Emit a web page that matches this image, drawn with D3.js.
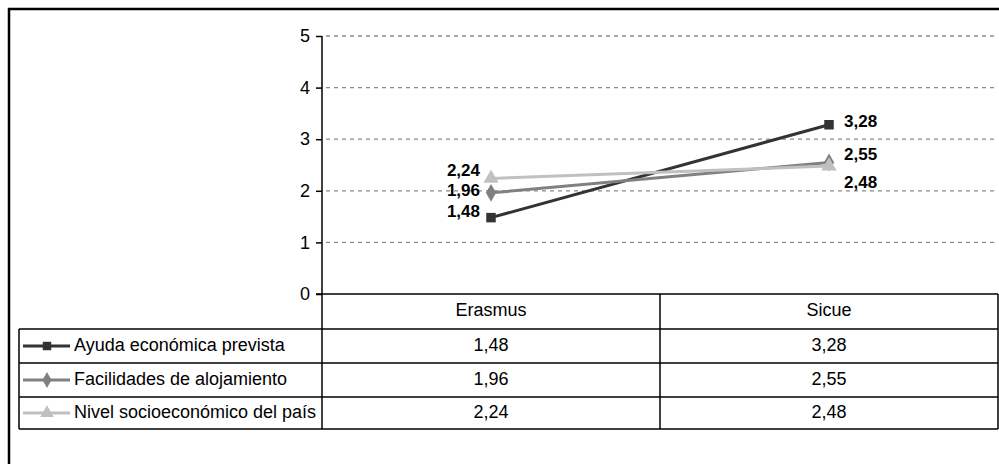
<!DOCTYPE html>
<html><head><meta charset="utf-8">
<script src="https://cdn.jsdelivr.net/npm/d3@7"></script>
<style>body{margin:0;background:#fff}svg{display:block}text{font-family:"Liberation Sans",Arial,sans-serif}</style>
</head><body>
<svg id="c" width="999" height="464"></svg>
<script>
const categories = ["Erasmus", "Sicue"];
const seriesNames = ["Ayuda económica prevista", "Facilidades de alojamiento", "Nivel socioeconómico del país"];
const ayuda = [1.48, 3.28];
const facilidades = [1.96, 2.55];
const nivel = [2.24, 2.48];
const yTicks = [0, 1, 2, 3, 4, 5];

const seriesValues = [ayuda, facilidades, nivel];
const colors = ["#333333", "#808080", "#c0c0c0"];
const markers = [d3.symbolSquare, d3.symbolDiamond, d3.symbolTriangle];
const markerSizes = [90, 90, 100];
// label vertical offsets (px) per series per category, to avoid overlaps
const labelDy = [[-5, -2], [-1, -7], [-7, 17]];

const fmt = v => d3.format(".2f")(v).replace(".", ",");
const svg = d3.select("#c");
const FS = 18;

// outer frame
svg.append("line").attr("x1", 8).attr("x2", 999).attr("y1", 9).attr("y2", 9).attr("stroke", "#000").attr("stroke-width", 2.5);
svg.append("line").attr("x1", 9).attr("x2", 9).attr("y1", 8).attr("y2", 464).attr("stroke", "#000").attr("stroke-width", 2.5);

const x0 = 322, x1 = 998, yTop = 36, yBase = 294;
const x = d3.scaleBand().domain(categories).range([x0, x1]);
const y = d3.scaleLinear().domain([0, 5]).range([yBase, yTop]);

// gridlines
svg.append("g").selectAll("line").data(yTicks.filter(t => t > 0)).join("line")
  .attr("x1", x0 + 4).attr("x2", x1).attr("y1", d => y(d)).attr("y2", d => y(d))
  .attr("stroke", "#8a8a8a").attr("stroke-width", 1.3).attr("stroke-dasharray", "4,4");

// y axis
const yAxis = d3.axisLeft(y).tickValues(yTicks).tickSize(6).tickPadding(6).tickFormat(d => d);
const ga = svg.append("g").attr("transform", `translate(${x0},0)`).call(yAxis);
ga.select(".domain").remove();
ga.selectAll(".tick line").attr("stroke", "#000").attr("stroke-width", 1.5);
ga.selectAll(".tick text").attr("font-size", FS).attr("fill", "#000").attr("font-family", "Liberation Sans, Arial, sans-serif");
svg.append("line").attr("x1", x0).attr("x2", x0).attr("y1", yTop).attr("y2", 429).attr("stroke", "#000").attr("stroke-width", 1.5);
svg.append("line").attr("x1", x0 - 6).attr("x2", x1).attr("y1", yBase).attr("y2", yBase).attr("stroke", "#000").attr("stroke-width", 1.5);

// lines
const line = d3.line().x((d, i) => x(categories[i]) + x.bandwidth() / 2).y(d => y(d));
seriesValues.forEach((vals, s) => {
  svg.append("path").datum(vals).attr("d", line).attr("fill", "none").attr("stroke", colors[s]).attr("stroke-width", 3);
});
seriesValues.forEach((vals, s) => {
  svg.append("g").selectAll("path").data(vals).join("path")
    .attr("transform", (d, i) => `translate(${x(categories[i]) + x.bandwidth() / 2},${y(d)})`)
    .attr("d", d3.symbol().type(markers[s]).size(markerSizes[s])).attr("fill", colors[s]);
});
// data labels
seriesValues.forEach((vals, s) => {
  svg.append("g").selectAll("text").data(vals).join("text")
    .attr("x", (d, i) => x(categories[i]) + x.bandwidth() / 2 + (i === 0 ? -11 : 15))
    .attr("y", (d, i) => y(d) + labelDy[s][i])
    .attr("text-anchor", (d, i) => i === 0 ? "end" : "start")
    .attr("dominant-baseline", "middle")
    .attr("font-size", 17).attr("font-weight", "bold").attr("fill", "#000")
    .text(d => fmt(d));
});

// data table
const rowTops = [294, 329, 363, 397, 429];
const tLeft = 19;
const tg = svg.append("g");
tg.selectAll("line.h").data(rowTops.slice(1)).join("line")
  .attr("x1", tLeft).attr("x2", x1).attr("y1", d => d).attr("y2", d => d)
  .attr("stroke", "#000").attr("stroke-width", 1.5);
tg.append("line").attr("x1", tLeft).attr("x2", tLeft).attr("y1", 329).attr("y2", 429).attr("stroke", "#000").attr("stroke-width", 1.5);
tg.append("line").attr("x1", x1).attr("x2", x1).attr("y1", 294).attr("y2", 429).attr("stroke", "#000").attr("stroke-width", 1.5);
categories.slice(1).forEach(c => {
  tg.append("line").attr("x1", x(c)).attr("x2", x(c)).attr("y1", 294).attr("y2", 429).attr("stroke", "#000").attr("stroke-width", 1.5);
});
// header
tg.selectAll("text.hd").data(categories).join("text")
  .attr("x", d => x(d) + x.bandwidth() / 2).attr("y", (rowTops[0] + rowTops[1]) / 2)
  .attr("text-anchor", "middle").attr("dominant-baseline", "middle").attr("font-size", FS).text(d => d);
seriesValues.forEach((vals, s) => {
  const cy = (rowTops[s + 1] + rowTops[s + 2]) / 2;
  tg.append("line").attr("x1", 23).attr("x2", 70).attr("y1", cy).attr("y2", cy).attr("stroke", colors[s]).attr("stroke-width", 3);
  tg.append("path").attr("transform", `translate(47,${cy})`).attr("d", d3.symbol().type(markers[s]).size(markerSizes[s] * 0.8)).attr("fill", colors[s]);
  tg.append("text").attr("x", 74).attr("y", cy).attr("dominant-baseline", "middle").attr("font-size", FS).text(seriesNames[s]);
  tg.selectAll(null).data(vals).join("text")
    .attr("x", (d, i) => x(categories[i]) + x.bandwidth() / 2).attr("y", cy)
    .attr("text-anchor", "middle").attr("dominant-baseline", "middle").attr("font-size", FS).text(d => fmt(d));
});
</script>
</body></html>
